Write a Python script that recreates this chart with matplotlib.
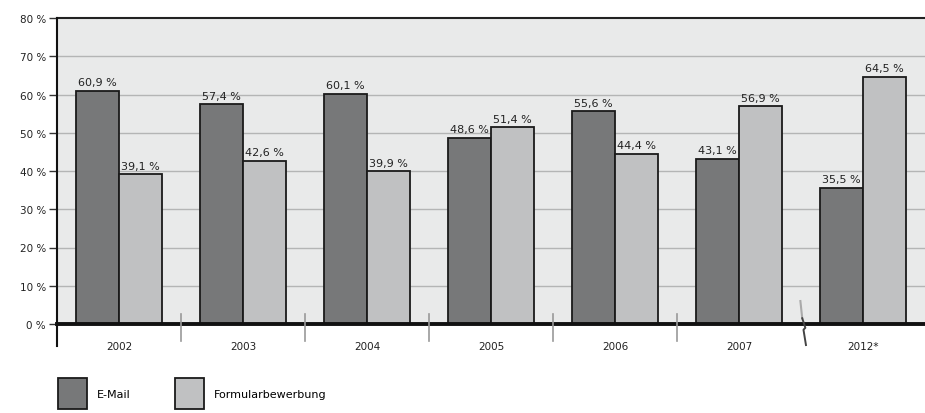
import matplotlib
matplotlib.use("Agg")
import matplotlib.pyplot as plt
from matplotlib.patches import Patch
import numpy as np

years = ["2002", "2003", "2004", "2005", "2006", "2007", "2012*"]
email = [60.9, 57.4, 60.1, 48.6, 55.6, 43.1, 35.5]
formular = [39.1, 42.6, 39.9, 51.4, 44.4, 56.9, 64.5]
series_names = ["E-Mail", "Formularbewerbung"]
yticks = [0, 10, 20, 30, 40, 50, 60, 70, 80]

c_email = "#777879"
c_form = "#c0c1c2"
c_bg = "#e9eaea"
c_grid = "#b4b5b5"

plt.rcParams['font.family'] = ['DejaVu Sans']

fig = plt.figure(figsize=(9.25, 4.14), dpi=100)
ax = fig.add_axes([57/925, 1-325/414, 1-57/925, (325-19)/414])
ax.set_facecolor(c_bg)

x = np.arange(len(years))
w = 0.345
ax.bar(x - w/2, email, w, color=c_email, edgecolor="#1a1a1a", linewidth=1.3, zorder=3)
ax.bar(x + w/2, formular, w, color=c_form, edgecolor="#1a1a1a", linewidth=1.3, zorder=3)

def fmt(v):
    return f"{v:.1f}".replace(".", ",") + " %"

for xi, v in zip(x, email):
    ax.text(xi - w/2, v + 1.0, fmt(v), ha="center", va="bottom", fontsize=8, color="#222222", zorder=4)
for xi, v in zip(x, formular):
    ax.text(xi + w/2, v + 1.0, fmt(v), ha="center", va="bottom", fontsize=8, color="#222222", zorder=4)

ax.set_xlim(-0.5, len(years) - 0.5)
ax.set_ylim(0, 80)
ax.set_yticks(yticks)
ax.set_yticklabels([f"{t} %" for t in yticks], fontsize=7.5, color="#222222")
ax.set_xticks(x)
ax.set_xticklabels(years, fontsize=7.5, color="#222222")
ax.tick_params(axis="x", length=0, pad=12)
ax.tick_params(axis="y", length=6, width=1, color="#333333", pad=2)

for t in yticks[1:-1]:
    ax.axhline(t, color=c_grid, linewidth=1.0, zorder=1)

for s in ["right", "bottom", "left"]:
    ax.spines[s].set_visible(False)
ax.spines["top"].set_linewidth(1.5)
ax.spines["top"].set_color("#222222")

# baseline
ax.axhline(0, color="#111111", linewidth=2.8, zorder=5, clip_on=False)
# left axis line extending below 0
ax.plot([-0.5, -0.5], [-5.8, 80], color="#111111", linewidth=1.5, clip_on=False, zorder=6)

# category separators
for b in x[:-2] + 0.5:
    ax.plot([b, b], [2.7, -4.5], color="#999999", linewidth=1.2, clip_on=False, zorder=6)

# break symbol between 2007 and 2012*
bx = x[-2] + 0.5
ax.plot([bx - 0.005, bx + 0.01], [6.0, 1.5], color="#aaaaaa", linewidth=1.5, clip_on=False, zorder=6)
ax.plot([bx + 0.01, bx + 0.035, bx + 0.02, bx + 0.04], [1.5, -1.0, -1.5, -5.5],
        color="#444444", linewidth=1.4, clip_on=False, zorder=7)

handles = [Patch(facecolor=c_email, edgecolor="#1a1a1a", linewidth=1.3),
           Patch(facecolor=c_form, edgecolor="#1a1a1a", linewidth=1.3)]
fig.legend(handles, series_names, loc="lower left", bbox_to_anchor=(58/925, 4/414),
           ncol=2, frameon=False, fontsize=8, handlelength=2.6, handleheight=3.9,
           handletextpad=0.9, columnspacing=4.0, borderpad=0, borderaxespad=0)

fig.savefig("out.png", dpi=100)
